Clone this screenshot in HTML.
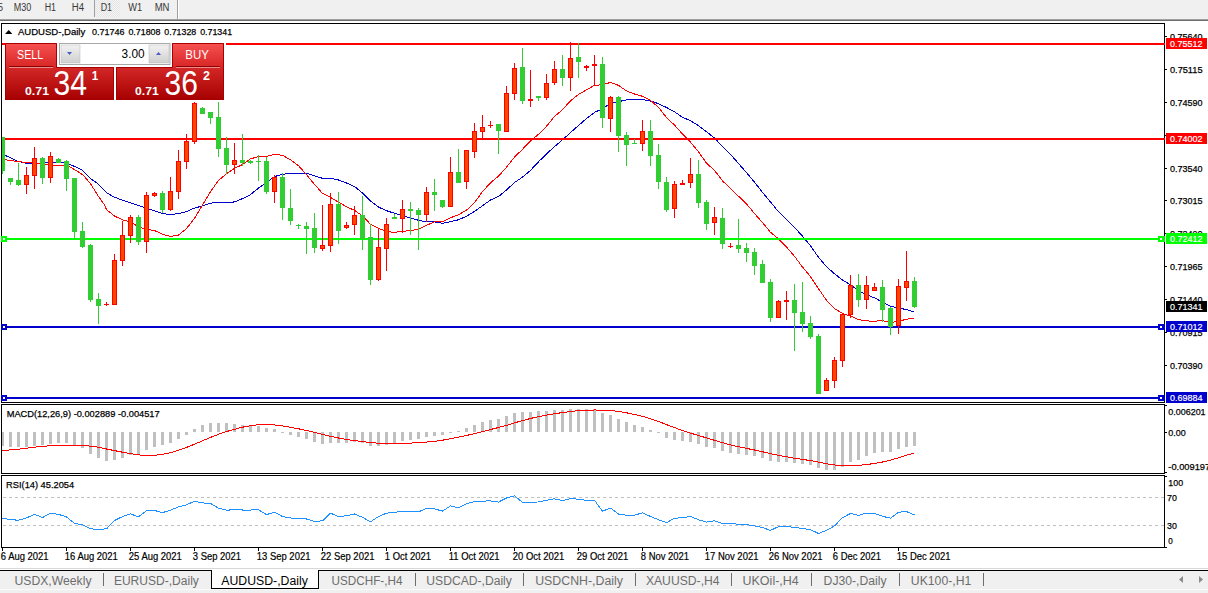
<!DOCTYPE html>
<html><head><meta charset="utf-8"><title>AUDUSD-,Daily</title>
<style>html,body{margin:0;padding:0;background:#fff;width:1208px;height:593px;overflow:hidden;font-family:"Liberation Sans",sans-serif}svg{display:block}</style>
</head><body>
<svg width="1208" height="593" viewBox="0 0 1208 593" font-family='"Liberation Sans", sans-serif'><rect x="0" y="0" width="1208" height="19" fill="#f0f0f0" />
<rect x="0" y="19" width="1208" height="1" fill="#a0a0a0" />
<rect x="0" y="20" width="1208" height="1" fill="#6e6e6e" />
<defs><pattern id="chk" width="2" height="2" patternUnits="userSpaceOnUse"><rect width="2" height="2" fill="#f4f4f4"/><rect width="1" height="1" fill="#e4e4e4"/><rect x="1" y="1" width="1" height="1" fill="#e4e4e4"/></pattern></defs>
<rect x="95" y="0" width="25" height="17" fill="url(#chk)" />
<rect x="94" y="0" width="1" height="17" fill="#a0a0a0" />
<rect x="177" y="0" width="1" height="19" fill="#a0a0a0" />
<rect x="178" y="0" width="1" height="19" fill="#ffffff" />
<text x="-2" y="10.9" font-size="10" fill="#383838" textLength="5" lengthAdjust="spacingAndGlyphs" >5</text>
<text x="13.7" y="10.9" font-size="10" fill="#383838" textLength="17.5" lengthAdjust="spacingAndGlyphs" >M30</text>
<text x="44.7" y="10.9" font-size="10" fill="#383838" textLength="11.4" lengthAdjust="spacingAndGlyphs" >H1</text>
<text x="71.7" y="10.9" font-size="10" fill="#383838" textLength="12.3" lengthAdjust="spacingAndGlyphs" >H4</text>
<text x="100.7" y="10.9" font-size="10" fill="#383838" textLength="11.4" lengthAdjust="spacingAndGlyphs" >D1</text>
<text x="128.3" y="10.9" font-size="10" fill="#383838" textLength="13.9" lengthAdjust="spacingAndGlyphs" >W1</text>
<text x="154.7" y="10.9" font-size="10" fill="#383838" textLength="14.8" lengthAdjust="spacingAndGlyphs" >MN</text>
<g clip-path="url(#mainclip)">
<clipPath id="mainclip"><rect x="2" y="24" width="1162" height="378"/></clipPath>
<path d="M1.6,153.5 L4.6,155.1 L10.1,157.7 L17.2,161.0 L25.3,163.2 L30.4,163.2 L40.5,163.2 L46.6,162.2 L56.7,162.2 L61.7,162.4 L68.8,164.2 L72.9,165.7 L81.0,169.3 L91.1,178.9 L96.2,182.5 L107.3,193.1 L112.3,196.1 L119.4,199.2 L134.9,204.2 L148.4,208.9 L162.5,213.6 L170.5,214.6 L178.5,213.6 L186.5,211.5 L194.5,208.1 L202.5,205.9 L210.5,203.1 L218.5,202.7 L226.5,202.8 L234.5,201.9 L242.5,198.6 L250.5,194.6 L258.5,188.1 L266.5,182.7 L274.5,176.6 L282.5,174.2 L290.5,173.5 L298.5,173.9 L306.5,173.3 L314.5,175.8 L322.5,178.3 L330.5,178.1 L338.5,180.0 L346.5,183.0 L354.5,186.5 L362.5,193.0 L370.5,200.9 L378.5,207.1 L386.5,210.7 L394.5,213.3 L402.5,215.6 L410.5,217.9 L418.5,220.3 L426.5,221.8 L434.5,221.9 L442.5,223.3 L450.5,221.6 L458.5,219.8 L466.5,216.2 L474.5,211.5 L482.5,205.7 L490.5,200.0 L498.5,196.5 L506.5,190.0 L514.5,182.5 L522.5,177.1 L530.5,170.4 L538.5,161.8 L546.5,153.9 L554.5,146.6 L562.5,139.8 L570.5,132.6 L578.5,125.5 L586.5,118.5 L594.5,112.4 L602.5,108.7 L610.5,103.4 L618.5,101.7 L626.5,99.9 L634.5,99.6 L642.5,99.6 L650.5,101.0 L658.5,103.7 L666.5,107.5 L674.5,111.8 L682.5,117.3 L690.5,120.7 L698.5,125.7 L706.5,131.7 L714.5,138.1 L722.5,146.4 L730.5,154.4 L738.5,163.5 L746.5,172.6 L754.5,182.1 L762.5,192.5 L770.5,202.0 L778.5,211.7 L786.5,219.5 L794.5,227.5 L802.5,236.1 L810.5,245.9 L818.5,257.2 L826.5,266.7 L834.5,273.8 L842.5,280.0 L850.5,284.8 L858.5,290.8 L866.5,294.8 L874.5,297.8 L882.5,302.2 L890.5,306.1 L898.5,308.0 L906.5,309.6 L914.5,312.1" fill="none" stroke="#0000cd" stroke-width="1" shape-rendering="crispEdges"/>
<path d="M1.6,159.2 L4.6,159.5 L9.6,160.4 L15.2,161.2 L22.3,162.0 L25.3,162.4 L30.4,162.4 L39.5,164.0 L47.6,164.4 L54.7,165.2 L63.8,165.2 L69.8,166.8 L78.9,172.3 L83.0,174.9 L91.1,184.5 L97.2,194.6 L104.3,204.7 L106.5,209.7 L114.5,216.0 L122.5,219.8 L130.5,222.0 L138.5,226.8 L146.5,229.4 L154.5,230.5 L162.5,234.3 L170.5,236.4 L178.5,235.1 L186.5,228.6 L194.5,218.3 L202.5,205.0 L210.5,191.6 L218.5,180.5 L226.5,173.7 L234.5,168.4 L242.5,164.5 L250.5,158.9 L258.5,156.5 L266.5,156.5 L274.5,154.2 L282.5,155.4 L290.5,159.7 L298.5,165.7 L306.5,174.7 L314.5,184.3 L322.5,193.4 L330.5,197.4 L338.5,202.1 L346.5,206.7 L354.5,210.4 L362.5,215.9 L370.5,224.3 L378.5,228.2 L386.5,231.6 L394.5,232.3 L402.5,231.5 L410.5,230.4 L418.5,229.4 L426.5,225.4 L434.5,221.8 L442.5,222.0 L450.5,217.8 L458.5,214.8 L466.5,210.2 L474.5,202.5 L482.5,191.6 L490.5,182.8 L498.5,176.2 L506.5,167.2 L514.5,157.1 L522.5,149.3 L530.5,141.0 L538.5,134.3 L546.5,126.3 L554.5,116.5 L562.5,109.7 L570.5,100.8 L578.5,94.5 L586.5,89.8 L594.5,85.3 L602.5,84.8 L610.5,82.4 L618.5,85.4 L626.5,90.9 L634.5,94.0 L642.5,96.3 L650.5,100.4 L658.5,107.4 L666.5,117.5 L674.5,125.1 L682.5,134.0 L690.5,142.1 L698.5,151.8 L706.5,163.2 L714.5,170.4 L722.5,180.8 L730.5,188.7 L738.5,196.2 L746.5,203.9 L754.5,213.5 L762.5,222.6 L770.5,232.3 L778.5,238.8 L786.5,247.1 L794.5,256.3 L802.5,267.0 L810.5,276.6 L818.5,288.7 L826.5,300.3 L834.5,308.6 L842.5,313.5 L850.5,316.1 L858.5,319.5 L866.5,320.9 L874.5,321.2 L882.5,320.6 L890.5,322.4 L898.5,321.4 L906.5,319.2 L914.5,318.0" fill="none" stroke="#ff0000" stroke-width="1" shape-rendering="crispEdges"/>
<rect x="2" y="43" width="3" height="2" fill="#ff0000" />
<rect x="226" y="43" width="939" height="2" fill="#ff0000" />
<rect x="2" y="138" width="1163" height="2" fill="#ff0000" />
<rect x="2" y="238" width="1163" height="2" fill="#00ff00" />
<rect x="2" y="326" width="1163" height="2" fill="#0000cd" />
<rect x="2" y="397" width="1163" height="2" fill="#0000cd" />
<rect x="2" y="137" width="1" height="37" fill="#32cd32" />
<rect x="0" y="137" width="5" height="34" fill="#32cd32" />
<rect x="10" y="178" width="1" height="7" fill="#32cd32" />
<rect x="8" y="178" width="5" height="4" fill="#32cd32" />
<rect x="18" y="163" width="1" height="23" fill="#32cd32" />
<rect x="16" y="180" width="5" height="5" fill="#32cd32" />
<rect x="26" y="167" width="1" height="27" fill="#ff0000" />
<rect x="24" y="175" width="5" height="10" fill="#ff0000" />
<rect x="25" y="176" width="3" height="8" fill="#ff4500" />
<rect x="34" y="147" width="1" height="42" fill="#ff0000" />
<rect x="32" y="158" width="5" height="18" fill="#ff0000" />
<rect x="33" y="159" width="3" height="16" fill="#ff4500" />
<rect x="42" y="157" width="1" height="27" fill="#32cd32" />
<rect x="40" y="158" width="5" height="20" fill="#32cd32" />
<rect x="50" y="152" width="1" height="31" fill="#ff0000" />
<rect x="48" y="156" width="5" height="22" fill="#ff0000" />
<rect x="49" y="157" width="3" height="20" fill="#ff4500" />
<rect x="58" y="158" width="1" height="5" fill="#32cd32" />
<rect x="56" y="159" width="5" height="4" fill="#32cd32" />
<rect x="66" y="160" width="1" height="31" fill="#32cd32" />
<rect x="64" y="161" width="5" height="18" fill="#32cd32" />
<rect x="74" y="178" width="1" height="61" fill="#32cd32" />
<rect x="72" y="178" width="5" height="54" fill="#32cd32" />
<rect x="82" y="222" width="1" height="26" fill="#32cd32" />
<rect x="80" y="231" width="5" height="16" fill="#32cd32" />
<rect x="90" y="244" width="1" height="58" fill="#32cd32" />
<rect x="88" y="245" width="5" height="55" fill="#32cd32" />
<rect x="98" y="293" width="1" height="31" fill="#32cd32" />
<rect x="96" y="299" width="5" height="7" fill="#32cd32" />
<rect x="106" y="302" width="1" height="4" fill="#ff0000" />
<rect x="104" y="304" width="5" height="1" fill="#ff0000" />
<rect x="114" y="254" width="1" height="51" fill="#ff0000" />
<rect x="112" y="260" width="5" height="45" fill="#ff0000" />
<rect x="113" y="261" width="3" height="43" fill="#ff4500" />
<rect x="122" y="221" width="1" height="45" fill="#ff0000" />
<rect x="120" y="235" width="5" height="26" fill="#ff0000" />
<rect x="121" y="236" width="3" height="24" fill="#ff4500" />
<rect x="130" y="215" width="1" height="28" fill="#ff0000" />
<rect x="128" y="217" width="5" height="19" fill="#ff0000" />
<rect x="129" y="218" width="3" height="17" fill="#ff4500" />
<rect x="138" y="215" width="1" height="30" fill="#32cd32" />
<rect x="136" y="217" width="5" height="25" fill="#32cd32" />
<rect x="146" y="192" width="1" height="61" fill="#ff0000" />
<rect x="144" y="195" width="5" height="47" fill="#ff0000" />
<rect x="145" y="196" width="3" height="45" fill="#ff4500" />
<rect x="154" y="192" width="1" height="5" fill="#ff0000" />
<rect x="152" y="193" width="5" height="3" fill="#ff0000" />
<rect x="153" y="194" width="3" height="1" fill="#ff4500" />
<rect x="162" y="191" width="1" height="22" fill="#32cd32" />
<rect x="160" y="193" width="5" height="17" fill="#32cd32" />
<rect x="170" y="177" width="1" height="34" fill="#ff0000" />
<rect x="168" y="191" width="5" height="19" fill="#ff0000" />
<rect x="169" y="192" width="3" height="17" fill="#ff4500" />
<rect x="178" y="150" width="1" height="49" fill="#ff0000" />
<rect x="176" y="161" width="5" height="31" fill="#ff0000" />
<rect x="177" y="162" width="3" height="29" fill="#ff4500" />
<rect x="186" y="134" width="1" height="35" fill="#ff0000" />
<rect x="184" y="141" width="5" height="21" fill="#ff0000" />
<rect x="185" y="142" width="3" height="19" fill="#ff4500" />
<rect x="194" y="102" width="1" height="42" fill="#ff0000" />
<rect x="192" y="103" width="5" height="39" fill="#ff0000" />
<rect x="193" y="104" width="3" height="37" fill="#ff4500" />
<rect x="202" y="107" width="1" height="7" fill="#32cd32" />
<rect x="200" y="108" width="5" height="6" fill="#32cd32" />
<rect x="210" y="112" width="1" height="12" fill="#32cd32" />
<rect x="208" y="112" width="5" height="6" fill="#32cd32" />
<rect x="218" y="102" width="1" height="55" fill="#32cd32" />
<rect x="216" y="117" width="5" height="32" fill="#32cd32" />
<rect x="226" y="137" width="1" height="37" fill="#32cd32" />
<rect x="224" y="148" width="5" height="17" fill="#32cd32" />
<rect x="234" y="143" width="1" height="31" fill="#ff0000" />
<rect x="232" y="160" width="5" height="5" fill="#ff0000" />
<rect x="233" y="161" width="3" height="3" fill="#ff4500" />
<rect x="242" y="134" width="1" height="32" fill="#32cd32" />
<rect x="240" y="160" width="5" height="3" fill="#32cd32" />
<rect x="250" y="160" width="1" height="4" fill="#32cd32" />
<rect x="248" y="161" width="5" height="2" fill="#32cd32" />
<rect x="258" y="155" width="1" height="26" fill="#32cd32" />
<rect x="256" y="161" width="5" height="1" fill="#32cd32" />
<rect x="266" y="157" width="1" height="37" fill="#32cd32" />
<rect x="264" y="161" width="5" height="31" fill="#32cd32" />
<rect x="274" y="175" width="1" height="28" fill="#ff0000" />
<rect x="272" y="177" width="5" height="15" fill="#ff0000" />
<rect x="273" y="178" width="3" height="13" fill="#ff4500" />
<rect x="282" y="173" width="1" height="47" fill="#32cd32" />
<rect x="280" y="177" width="5" height="31" fill="#32cd32" />
<rect x="290" y="189" width="1" height="36" fill="#32cd32" />
<rect x="288" y="208" width="5" height="13" fill="#32cd32" />
<rect x="298" y="224" width="1" height="5" fill="#32cd32" />
<rect x="296" y="225" width="5" height="1" fill="#32cd32" />
<rect x="306" y="222" width="1" height="32" fill="#32cd32" />
<rect x="304" y="226" width="5" height="3" fill="#32cd32" />
<rect x="314" y="213" width="1" height="40" fill="#32cd32" />
<rect x="312" y="228" width="5" height="20" fill="#32cd32" />
<rect x="322" y="205" width="1" height="46" fill="#ff0000" />
<rect x="320" y="245" width="5" height="4" fill="#ff0000" />
<rect x="321" y="246" width="3" height="2" fill="#ff4500" />
<rect x="330" y="193" width="1" height="59" fill="#ff0000" />
<rect x="328" y="204" width="5" height="42" fill="#ff0000" />
<rect x="329" y="205" width="3" height="40" fill="#ff4500" />
<rect x="338" y="192" width="1" height="52" fill="#32cd32" />
<rect x="336" y="204" width="5" height="27" fill="#32cd32" />
<rect x="346" y="222" width="1" height="7" fill="#ff0000" />
<rect x="344" y="225" width="5" height="3" fill="#ff0000" />
<rect x="345" y="226" width="3" height="1" fill="#ff4500" />
<rect x="354" y="206" width="1" height="29" fill="#ff0000" />
<rect x="352" y="215" width="5" height="10" fill="#ff0000" />
<rect x="353" y="216" width="3" height="8" fill="#ff4500" />
<rect x="362" y="196" width="1" height="54" fill="#32cd32" />
<rect x="360" y="215" width="5" height="24" fill="#32cd32" />
<rect x="370" y="224" width="1" height="61" fill="#32cd32" />
<rect x="368" y="237" width="5" height="43" fill="#32cd32" />
<rect x="378" y="228" width="1" height="53" fill="#ff0000" />
<rect x="376" y="247" width="5" height="33" fill="#ff0000" />
<rect x="377" y="248" width="3" height="31" fill="#ff4500" />
<rect x="386" y="218" width="1" height="53" fill="#ff0000" />
<rect x="384" y="224" width="5" height="25" fill="#ff0000" />
<rect x="385" y="225" width="3" height="23" fill="#ff4500" />
<rect x="394" y="214" width="1" height="5" fill="#32cd32" />
<rect x="392" y="217" width="5" height="2" fill="#32cd32" />
<rect x="402" y="200" width="1" height="33" fill="#ff0000" />
<rect x="400" y="209" width="5" height="10" fill="#ff0000" />
<rect x="401" y="210" width="3" height="8" fill="#ff4500" />
<rect x="410" y="202" width="1" height="33" fill="#32cd32" />
<rect x="408" y="209" width="5" height="2" fill="#32cd32" />
<rect x="418" y="208" width="1" height="42" fill="#32cd32" />
<rect x="416" y="210" width="5" height="5" fill="#32cd32" />
<rect x="426" y="187" width="1" height="35" fill="#ff0000" />
<rect x="424" y="192" width="5" height="23" fill="#ff0000" />
<rect x="425" y="193" width="3" height="21" fill="#ff4500" />
<rect x="434" y="179" width="1" height="32" fill="#32cd32" />
<rect x="432" y="192" width="5" height="3" fill="#32cd32" />
<rect x="442" y="200" width="1" height="8" fill="#32cd32" />
<rect x="440" y="200" width="5" height="7" fill="#32cd32" />
<rect x="450" y="157" width="1" height="50" fill="#ff0000" />
<rect x="448" y="172" width="5" height="35" fill="#ff0000" />
<rect x="449" y="173" width="3" height="33" fill="#ff4500" />
<rect x="458" y="149" width="1" height="34" fill="#32cd32" />
<rect x="456" y="172" width="5" height="11" fill="#32cd32" />
<rect x="466" y="150" width="1" height="39" fill="#ff0000" />
<rect x="464" y="150" width="5" height="32" fill="#ff0000" />
<rect x="465" y="151" width="3" height="30" fill="#ff4500" />
<rect x="474" y="123" width="1" height="35" fill="#ff0000" />
<rect x="472" y="131" width="5" height="21" fill="#ff0000" />
<rect x="473" y="132" width="3" height="19" fill="#ff4500" />
<rect x="482" y="115" width="1" height="23" fill="#ff0000" />
<rect x="480" y="127" width="5" height="5" fill="#ff0000" />
<rect x="481" y="128" width="3" height="3" fill="#ff4500" />
<rect x="490" y="121" width="1" height="7" fill="#ff0000" />
<rect x="488" y="125" width="5" height="1" fill="#ff0000" />
<rect x="498" y="124" width="1" height="30" fill="#32cd32" />
<rect x="496" y="124" width="5" height="7" fill="#32cd32" />
<rect x="506" y="86" width="1" height="46" fill="#ff0000" />
<rect x="504" y="93" width="5" height="39" fill="#ff0000" />
<rect x="505" y="94" width="3" height="37" fill="#ff4500" />
<rect x="514" y="63" width="1" height="37" fill="#ff0000" />
<rect x="512" y="68" width="5" height="26" fill="#ff0000" />
<rect x="513" y="69" width="3" height="24" fill="#ff4500" />
<rect x="522" y="48" width="1" height="56" fill="#32cd32" />
<rect x="520" y="67" width="5" height="34" fill="#32cd32" />
<rect x="530" y="70" width="1" height="37" fill="#ff0000" />
<rect x="528" y="99" width="5" height="2" fill="#ff0000" />
<rect x="538" y="96" width="1" height="5" fill="#32cd32" />
<rect x="536" y="96" width="5" height="2" fill="#32cd32" />
<rect x="546" y="74" width="1" height="26" fill="#ff0000" />
<rect x="544" y="83" width="5" height="15" fill="#ff0000" />
<rect x="545" y="84" width="3" height="13" fill="#ff4500" />
<rect x="554" y="61" width="1" height="24" fill="#ff0000" />
<rect x="552" y="69" width="5" height="14" fill="#ff0000" />
<rect x="553" y="70" width="3" height="12" fill="#ff4500" />
<rect x="562" y="55" width="1" height="31" fill="#32cd32" />
<rect x="560" y="69" width="5" height="9" fill="#32cd32" />
<rect x="570" y="42" width="1" height="49" fill="#ff0000" />
<rect x="568" y="58" width="5" height="20" fill="#ff0000" />
<rect x="569" y="59" width="3" height="18" fill="#ff4500" />
<rect x="578" y="43" width="1" height="35" fill="#32cd32" />
<rect x="576" y="57" width="5" height="5" fill="#32cd32" />
<rect x="586" y="65" width="1" height="6" fill="#ff0000" />
<rect x="584" y="66" width="5" height="2" fill="#ff0000" />
<rect x="594" y="55" width="1" height="31" fill="#ff0000" />
<rect x="592" y="64" width="5" height="2" fill="#ff0000" />
<rect x="602" y="57" width="1" height="71" fill="#32cd32" />
<rect x="600" y="64" width="5" height="54" fill="#32cd32" />
<rect x="610" y="96" width="1" height="36" fill="#ff0000" />
<rect x="608" y="97" width="5" height="22" fill="#ff0000" />
<rect x="609" y="98" width="3" height="20" fill="#ff4500" />
<rect x="618" y="96" width="1" height="56" fill="#32cd32" />
<rect x="616" y="97" width="5" height="39" fill="#32cd32" />
<rect x="626" y="132" width="1" height="34" fill="#32cd32" />
<rect x="624" y="135" width="5" height="10" fill="#32cd32" />
<rect x="634" y="139" width="1" height="5" fill="#32cd32" />
<rect x="632" y="143" width="5" height="1" fill="#32cd32" />
<rect x="642" y="120" width="1" height="31" fill="#ff0000" />
<rect x="640" y="131" width="5" height="13" fill="#ff0000" />
<rect x="641" y="132" width="3" height="11" fill="#ff4500" />
<rect x="650" y="120" width="1" height="46" fill="#32cd32" />
<rect x="648" y="131" width="5" height="25" fill="#32cd32" />
<rect x="658" y="144" width="1" height="45" fill="#32cd32" />
<rect x="656" y="155" width="5" height="27" fill="#32cd32" />
<rect x="666" y="177" width="1" height="35" fill="#32cd32" />
<rect x="664" y="182" width="5" height="28" fill="#32cd32" />
<rect x="674" y="181" width="1" height="37" fill="#ff0000" />
<rect x="672" y="184" width="5" height="25" fill="#ff0000" />
<rect x="673" y="185" width="3" height="23" fill="#ff4500" />
<rect x="682" y="180" width="1" height="5" fill="#ff0000" />
<rect x="680" y="183" width="5" height="2" fill="#ff0000" />
<rect x="690" y="158" width="1" height="30" fill="#ff0000" />
<rect x="688" y="174" width="5" height="9" fill="#ff0000" />
<rect x="689" y="175" width="3" height="7" fill="#ff4500" />
<rect x="698" y="160" width="1" height="48" fill="#32cd32" />
<rect x="696" y="174" width="5" height="29" fill="#32cd32" />
<rect x="706" y="200" width="1" height="30" fill="#32cd32" />
<rect x="704" y="202" width="5" height="22" fill="#32cd32" />
<rect x="714" y="207" width="1" height="28" fill="#ff0000" />
<rect x="712" y="217" width="5" height="6" fill="#ff0000" />
<rect x="713" y="218" width="3" height="4" fill="#ff4500" />
<rect x="722" y="208" width="1" height="41" fill="#32cd32" />
<rect x="720" y="218" width="5" height="26" fill="#32cd32" />
<rect x="730" y="243" width="1" height="5" fill="#ff0000" />
<rect x="728" y="246" width="5" height="1" fill="#ff0000" />
<rect x="738" y="219" width="1" height="34" fill="#32cd32" />
<rect x="736" y="245" width="5" height="4" fill="#32cd32" />
<rect x="746" y="243" width="1" height="19" fill="#32cd32" />
<rect x="744" y="248" width="5" height="5" fill="#32cd32" />
<rect x="754" y="248" width="1" height="27" fill="#32cd32" />
<rect x="752" y="252" width="5" height="14" fill="#32cd32" />
<rect x="762" y="260" width="1" height="23" fill="#32cd32" />
<rect x="760" y="264" width="5" height="19" fill="#32cd32" />
<rect x="770" y="279" width="1" height="43" fill="#32cd32" />
<rect x="768" y="282" width="5" height="36" fill="#32cd32" />
<rect x="778" y="300" width="1" height="18" fill="#ff0000" />
<rect x="776" y="301" width="5" height="17" fill="#ff0000" />
<rect x="777" y="302" width="3" height="15" fill="#ff4500" />
<rect x="786" y="291" width="1" height="29" fill="#ff0000" />
<rect x="784" y="300" width="5" height="2" fill="#ff0000" />
<rect x="794" y="284" width="1" height="67" fill="#32cd32" />
<rect x="792" y="300" width="5" height="13" fill="#32cd32" />
<rect x="802" y="282" width="1" height="50" fill="#32cd32" />
<rect x="800" y="312" width="5" height="12" fill="#32cd32" />
<rect x="810" y="316" width="1" height="23" fill="#32cd32" />
<rect x="808" y="323" width="5" height="14" fill="#32cd32" />
<rect x="818" y="334" width="1" height="60" fill="#32cd32" />
<rect x="816" y="336" width="5" height="58" fill="#32cd32" />
<rect x="826" y="378" width="1" height="13" fill="#ff0000" />
<rect x="824" y="380" width="5" height="11" fill="#ff0000" />
<rect x="825" y="381" width="3" height="9" fill="#ff4500" />
<rect x="834" y="357" width="1" height="31" fill="#ff0000" />
<rect x="832" y="360" width="5" height="21" fill="#ff0000" />
<rect x="833" y="361" width="3" height="19" fill="#ff4500" />
<rect x="842" y="314" width="1" height="53" fill="#ff0000" />
<rect x="840" y="314" width="5" height="47" fill="#ff0000" />
<rect x="841" y="315" width="3" height="45" fill="#ff4500" />
<rect x="850" y="275" width="1" height="43" fill="#ff0000" />
<rect x="848" y="285" width="5" height="30" fill="#ff0000" />
<rect x="849" y="286" width="3" height="28" fill="#ff4500" />
<rect x="858" y="274" width="1" height="33" fill="#32cd32" />
<rect x="856" y="285" width="5" height="15" fill="#32cd32" />
<rect x="866" y="276" width="1" height="33" fill="#ff0000" />
<rect x="864" y="285" width="5" height="15" fill="#ff0000" />
<rect x="865" y="286" width="3" height="13" fill="#ff4500" />
<rect x="874" y="283" width="1" height="8" fill="#ff0000" />
<rect x="872" y="287" width="5" height="4" fill="#ff0000" />
<rect x="873" y="288" width="3" height="2" fill="#ff4500" />
<rect x="882" y="280" width="1" height="42" fill="#32cd32" />
<rect x="880" y="287" width="5" height="23" fill="#32cd32" />
<rect x="890" y="307" width="1" height="28" fill="#32cd32" />
<rect x="888" y="308" width="5" height="19" fill="#32cd32" />
<rect x="898" y="279" width="1" height="55" fill="#ff0000" />
<rect x="896" y="286" width="5" height="40" fill="#ff0000" />
<rect x="897" y="287" width="3" height="38" fill="#ff4500" />
<rect x="906" y="251" width="1" height="50" fill="#ff0000" />
<rect x="904" y="281" width="5" height="7" fill="#ff0000" />
<rect x="905" y="282" width="3" height="5" fill="#ff4500" />
<rect x="914" y="277" width="1" height="31" fill="#32cd32" />
<rect x="912" y="281" width="5" height="26" fill="#32cd32" />
</g>
<rect x="1" y="23" width="1164" height="1" fill="#000" />
<rect x="1" y="402" width="1164" height="1" fill="#000" />
<rect x="1" y="23" width="1" height="380" fill="#000" />
<rect x="1164" y="23" width="1" height="380" fill="#000" />
<rect x="1164" y="43" width="1" height="2" fill="#ff0000" />
<rect x="1164" y="138" width="1" height="2" fill="#ff0000" />
<rect x="1164" y="238" width="1" height="2" fill="#00ff00" />
<rect x="1164" y="326" width="1" height="2" fill="#0000cd" />
<rect x="1164" y="397" width="1" height="2" fill="#0000cd" />
<rect x="1" y="236" width="6" height="6" fill="#00ff00" />
<rect x="3" y="238" width="2" height="2" fill="#fff" />
<rect x="1158" y="236" width="7" height="6" fill="#00ff00" />
<rect x="1160" y="238" width="2" height="2" fill="#fff" />
<rect x="1" y="324" width="6" height="6" fill="#0000cd" />
<rect x="3" y="326" width="2" height="2" fill="#fff" />
<rect x="1158" y="324" width="7" height="6" fill="#0000cd" />
<rect x="1160" y="326" width="2" height="2" fill="#fff" />
<rect x="1" y="395" width="6" height="6" fill="#0000cd" />
<rect x="3" y="397" width="2" height="2" fill="#fff" />
<rect x="1158" y="395" width="7" height="6" fill="#0000cd" />
<rect x="1160" y="397" width="2" height="2" fill="#fff" />
<rect x="1165" y="36" width="2" height="1" fill="#000" />
<text x="1170" y="39.8" font-size="9.9" fill="#000" stroke="#000" stroke-width="0.25" textLength="32.5" lengthAdjust="spacingAndGlyphs" >0.75640</text>
<rect x="1165" y="69" width="2" height="1" fill="#000" />
<text x="1170" y="72.8" font-size="9.9" fill="#000" stroke="#000" stroke-width="0.25" textLength="32.5" lengthAdjust="spacingAndGlyphs" >0.75115</text>
<rect x="1165" y="102" width="2" height="1" fill="#000" />
<text x="1170" y="105.8" font-size="9.9" fill="#000" stroke="#000" stroke-width="0.25" textLength="32.5" lengthAdjust="spacingAndGlyphs" >0.74590</text>
<rect x="1165" y="135" width="2" height="1" fill="#000" />
<text x="1170" y="138.8" font-size="9.9" fill="#000" stroke="#000" stroke-width="0.25" textLength="32.5" lengthAdjust="spacingAndGlyphs" >0.74065</text>
<rect x="1165" y="168" width="2" height="1" fill="#000" />
<text x="1170" y="171.8" font-size="9.9" fill="#000" stroke="#000" stroke-width="0.25" textLength="32.5" lengthAdjust="spacingAndGlyphs" >0.73540</text>
<rect x="1165" y="200" width="2" height="1" fill="#000" />
<text x="1170" y="203.8" font-size="9.9" fill="#000" stroke="#000" stroke-width="0.25" textLength="32.5" lengthAdjust="spacingAndGlyphs" >0.73015</text>
<rect x="1165" y="233" width="2" height="1" fill="#000" />
<text x="1170" y="236.8" font-size="9.9" fill="#000" stroke="#000" stroke-width="0.25" textLength="32.5" lengthAdjust="spacingAndGlyphs" >0.72490</text>
<rect x="1165" y="266" width="2" height="1" fill="#000" />
<text x="1170" y="269.8" font-size="9.9" fill="#000" stroke="#000" stroke-width="0.25" textLength="32.5" lengthAdjust="spacingAndGlyphs" >0.71965</text>
<rect x="1165" y="299" width="2" height="1" fill="#000" />
<text x="1170" y="302.8" font-size="9.9" fill="#000" stroke="#000" stroke-width="0.25" textLength="32.5" lengthAdjust="spacingAndGlyphs" >0.71440</text>
<rect x="1165" y="332" width="2" height="1" fill="#000" />
<text x="1170" y="335.8" font-size="9.9" fill="#000" stroke="#000" stroke-width="0.25" textLength="32.5" lengthAdjust="spacingAndGlyphs" >0.70915</text>
<rect x="1165" y="365" width="2" height="1" fill="#000" />
<text x="1170" y="368.8" font-size="9.9" fill="#000" stroke="#000" stroke-width="0.25" textLength="32.5" lengthAdjust="spacingAndGlyphs" >0.70390</text>
<rect x="1166" y="38" width="41" height="11" fill="#ff0000" />
<text x="1170" y="46.6" font-size="9.9" fill="#fff" stroke="#fff" stroke-width="0.2" textLength="32.5" lengthAdjust="spacingAndGlyphs" >0.75512</text>
<rect x="1166" y="133" width="41" height="11" fill="#ff0000" />
<text x="1170" y="141.6" font-size="9.9" fill="#fff" stroke="#fff" stroke-width="0.2" textLength="32.5" lengthAdjust="spacingAndGlyphs" >0.74002</text>
<rect x="1166" y="233" width="41" height="11" fill="#00ff00" />
<text x="1170" y="241.6" font-size="9.9" fill="#fff" stroke="#fff" stroke-width="0.2" textLength="32.5" lengthAdjust="spacingAndGlyphs" >0.72412</text>
<rect x="1166" y="301" width="41" height="11" fill="#000000" />
<text x="1170" y="309.6" font-size="9.9" fill="#fff" stroke="#fff" stroke-width="0.2" textLength="32.5" lengthAdjust="spacingAndGlyphs" >0.71341</text>
<rect x="1166" y="321" width="41" height="11" fill="#0000cd" />
<text x="1170" y="329.6" font-size="9.9" fill="#fff" stroke="#fff" stroke-width="0.2" textLength="32.5" lengthAdjust="spacingAndGlyphs" >0.71012</text>
<rect x="1166" y="392" width="41" height="11" fill="#0000cd" />
<text x="1170" y="400.6" font-size="9.9" fill="#fff" stroke="#fff" stroke-width="0.2" textLength="32.5" lengthAdjust="spacingAndGlyphs" >0.69884</text>
<path d="M5,34 L8.7,30 L12.4,34 Z" fill="#000"/>
<text x="18" y="34.5" font-size="9.9" fill="#000" stroke="#000" stroke-width="0.25" textLength="67.2" lengthAdjust="spacingAndGlyphs" >AUDUSD-,Daily</text>
<text x="92.1" y="34.5" font-size="9.9" fill="#000" stroke="#000" stroke-width="0.25" textLength="32.5" lengthAdjust="spacingAndGlyphs" >0.71746</text>
<text x="128.4" y="34.5" font-size="9.9" fill="#000" stroke="#000" stroke-width="0.25" textLength="32.1" lengthAdjust="spacingAndGlyphs" >0.71808</text>
<text x="164.3" y="34.5" font-size="9.9" fill="#000" stroke="#000" stroke-width="0.25" textLength="31.9" lengthAdjust="spacingAndGlyphs" >0.71328</text>
<text x="200.2" y="34.5" font-size="9.9" fill="#000" stroke="#000" stroke-width="0.25" textLength="31.9" lengthAdjust="spacingAndGlyphs" >0.71341</text>
<defs>
<linearGradient id="gtop" x1="0" y1="0" x2="0" y2="1"><stop offset="0" stop-color="#f85252"/><stop offset="1" stop-color="#d82626"/></linearGradient>
<linearGradient id="gbot" x1="0" y1="0" x2="0" y2="1"><stop offset="0" stop-color="#d42828"/><stop offset="1" stop-color="#a60000"/></linearGradient>
<linearGradient id="gbtn" x1="0" y1="0" x2="0" y2="1"><stop offset="0" stop-color="#f2f2f2"/><stop offset="1" stop-color="#cfcfcf"/></linearGradient>
</defs>
<rect x="5" y="43" width="52" height="24" fill="url(#gtop)" />
<rect x="5" y="67" width="109" height="33" fill="url(#gbot)" />
<path d="M5.5,43.5 H56.5 V67.5 H113.5 V99.5 H5.5 Z" fill="none" stroke="#a80000" stroke-width="1"/>
<rect x="9" y="66" width="44" height="1" fill="#8b0000" />
<rect x="9" y="67" width="44" height="1" fill="#ee8c8c" />
<text x="17.1" y="59" font-size="12.5" fill="#fff" textLength="26" lengthAdjust="spacingAndGlyphs" >SELL</text>
<text x="25" y="94.7" font-size="11.5" fill="#fff" font-weight="bold" textLength="24" lengthAdjust="spacingAndGlyphs" >0.71</text>
<text x="53.5" y="94.8" font-size="34.5" fill="#fff" textLength="33.5" lengthAdjust="spacingAndGlyphs" >34</text>
<text x="91.8" y="80" font-size="13" fill="#fff" font-weight="bold" textLength="6.5" lengthAdjust="spacingAndGlyphs" >1</text>
<rect x="172" y="43" width="52" height="24" fill="url(#gtop)" />
<rect x="116" y="67" width="108" height="33" fill="url(#gbot)" />
<path d="M172.5,43.5 H223.5 V99.5 H116.5 V67.5 H172.5 Z" fill="none" stroke="#a80000" stroke-width="1"/>
<rect x="176" y="66" width="44" height="1" fill="#8b0000" />
<rect x="176" y="67" width="44" height="1" fill="#ee8c8c" />
<text x="185.3" y="59" font-size="12.5" fill="#fff" textLength="23.5" lengthAdjust="spacingAndGlyphs" >BUY</text>
<text x="135" y="94.7" font-size="11.5" fill="#fff" font-weight="bold" textLength="23.7" lengthAdjust="spacingAndGlyphs" >0.71</text>
<text x="164.6" y="94.8" font-size="34.5" fill="#fff" textLength="33.3" lengthAdjust="spacingAndGlyphs" >36</text>
<text x="203" y="80" font-size="13" fill="#fff" font-weight="bold" textLength="7" lengthAdjust="spacingAndGlyphs" >2</text>
<rect x="57" y="42" width="115" height="25" fill="#ffffff" />
<rect x="59.5" y="43.5" width="110.5" height="21" fill="#ffffff" stroke="#a8a8a8" stroke-width="1"/>
<rect x="61" y="45" width="19" height="18" fill="url(#gbtn)" stroke="#b8b8b8" stroke-width="0.5"/>
<rect x="149" y="45" width="20" height="18" fill="url(#gbtn)" stroke="#b8b8b8" stroke-width="0.5"/>
<path d="M67,52 L72,52 L69.5,55 Z" fill="#4a5ac8"/>
<path d="M156,55 L161,55 L158.5,52 Z" fill="#4a5ac8"/>
<text x="121.6" y="57.8" font-size="12" fill="#000" textLength="23" lengthAdjust="spacingAndGlyphs" >3.00</text>
<rect x="1" y="404" width="1164" height="1" fill="#000" />
<rect x="1" y="473" width="1164" height="1" fill="#000" />
<rect x="1" y="404" width="1" height="70" fill="#000" />
<rect x="1164" y="404" width="1" height="70" fill="#000" />
<clipPath id="macdclip"><rect x="2" y="405" width="1162" height="68"/></clipPath><g clip-path="url(#macdclip)">
<rect x="1" y="432" width="3" height="14" fill="#c0c0c0" />
<rect x="9" y="432" width="3" height="15" fill="#c0c0c0" />
<rect x="17" y="432" width="3" height="15" fill="#c0c0c0" />
<rect x="25" y="432" width="3" height="15" fill="#c0c0c0" />
<rect x="33" y="432" width="3" height="14" fill="#c0c0c0" />
<rect x="41" y="432" width="3" height="13" fill="#c0c0c0" />
<rect x="49" y="432" width="3" height="12" fill="#c0c0c0" />
<rect x="57" y="432" width="3" height="11" fill="#c0c0c0" />
<rect x="65" y="432" width="3" height="11" fill="#c0c0c0" />
<rect x="73" y="432" width="3" height="13" fill="#c0c0c0" />
<rect x="81" y="432" width="3" height="16" fill="#c0c0c0" />
<rect x="89" y="432" width="3" height="22" fill="#c0c0c0" />
<rect x="97" y="432" width="3" height="26" fill="#c0c0c0" />
<rect x="105" y="432" width="3" height="29" fill="#c0c0c0" />
<rect x="113" y="432" width="3" height="28" fill="#c0c0c0" />
<rect x="121" y="432" width="3" height="26" fill="#c0c0c0" />
<rect x="129" y="432" width="3" height="23" fill="#c0c0c0" />
<rect x="137" y="432" width="3" height="22" fill="#c0c0c0" />
<rect x="145" y="432" width="3" height="18" fill="#c0c0c0" />
<rect x="153" y="432" width="3" height="15" fill="#c0c0c0" />
<rect x="161" y="432" width="3" height="13" fill="#c0c0c0" />
<rect x="169" y="432" width="3" height="11" fill="#c0c0c0" />
<rect x="177" y="432" width="3" height="7" fill="#c0c0c0" />
<rect x="185" y="432" width="3" height="3" fill="#c0c0c0" />
<rect x="193" y="429" width="3" height="3" fill="#c0c0c0" />
<rect x="201" y="425" width="3" height="7" fill="#c0c0c0" />
<rect x="209" y="423" width="3" height="9" fill="#c0c0c0" />
<rect x="217" y="423" width="3" height="9" fill="#c0c0c0" />
<rect x="225" y="423" width="3" height="9" fill="#c0c0c0" />
<rect x="233" y="424" width="3" height="8" fill="#c0c0c0" />
<rect x="241" y="425" width="3" height="7" fill="#c0c0c0" />
<rect x="249" y="425" width="3" height="7" fill="#c0c0c0" />
<rect x="257" y="426" width="3" height="6" fill="#c0c0c0" />
<rect x="265" y="428" width="3" height="4" fill="#c0c0c0" />
<rect x="273" y="429" width="3" height="3" fill="#c0c0c0" />
<rect x="281" y="432" width="3" height="1" fill="#c0c0c0" />
<rect x="289" y="432" width="3" height="3" fill="#c0c0c0" />
<rect x="297" y="432" width="3" height="5" fill="#c0c0c0" />
<rect x="305" y="432" width="3" height="7" fill="#c0c0c0" />
<rect x="313" y="432" width="3" height="10" fill="#c0c0c0" />
<rect x="321" y="432" width="3" height="12" fill="#c0c0c0" />
<rect x="329" y="432" width="3" height="11" fill="#c0c0c0" />
<rect x="337" y="432" width="3" height="11" fill="#c0c0c0" />
<rect x="345" y="432" width="3" height="11" fill="#c0c0c0" />
<rect x="353" y="432" width="3" height="10" fill="#c0c0c0" />
<rect x="361" y="432" width="3" height="11" fill="#c0c0c0" />
<rect x="369" y="432" width="3" height="14" fill="#c0c0c0" />
<rect x="377" y="432" width="3" height="14" fill="#c0c0c0" />
<rect x="385" y="432" width="3" height="13" fill="#c0c0c0" />
<rect x="393" y="432" width="3" height="11" fill="#c0c0c0" />
<rect x="401" y="432" width="3" height="9" fill="#c0c0c0" />
<rect x="409" y="432" width="3" height="8" fill="#c0c0c0" />
<rect x="417" y="432" width="3" height="7" fill="#c0c0c0" />
<rect x="425" y="432" width="3" height="5" fill="#c0c0c0" />
<rect x="433" y="432" width="3" height="4" fill="#c0c0c0" />
<rect x="441" y="432" width="3" height="3" fill="#c0c0c0" />
<rect x="449" y="432" width="3" height="1" fill="#c0c0c0" />
<rect x="457" y="431" width="3" height="1" fill="#c0c0c0" />
<rect x="465" y="428" width="3" height="4" fill="#c0c0c0" />
<rect x="473" y="425" width="3" height="7" fill="#c0c0c0" />
<rect x="481" y="422" width="3" height="10" fill="#c0c0c0" />
<rect x="489" y="420" width="3" height="12" fill="#c0c0c0" />
<rect x="497" y="419" width="3" height="13" fill="#c0c0c0" />
<rect x="505" y="416" width="3" height="16" fill="#c0c0c0" />
<rect x="513" y="413" width="3" height="19" fill="#c0c0c0" />
<rect x="521" y="412" width="3" height="20" fill="#c0c0c0" />
<rect x="529" y="412" width="3" height="20" fill="#c0c0c0" />
<rect x="537" y="411" width="3" height="21" fill="#c0c0c0" />
<rect x="545" y="411" width="3" height="21" fill="#c0c0c0" />
<rect x="553" y="410" width="3" height="22" fill="#c0c0c0" />
<rect x="561" y="410" width="3" height="22" fill="#c0c0c0" />
<rect x="569" y="409" width="3" height="23" fill="#c0c0c0" />
<rect x="577" y="409" width="3" height="23" fill="#c0c0c0" />
<rect x="585" y="409" width="3" height="23" fill="#c0c0c0" />
<rect x="593" y="409" width="3" height="23" fill="#c0c0c0" />
<rect x="601" y="413" width="3" height="19" fill="#c0c0c0" />
<rect x="609" y="415" width="3" height="17" fill="#c0c0c0" />
<rect x="617" y="419" width="3" height="13" fill="#c0c0c0" />
<rect x="625" y="422" width="3" height="10" fill="#c0c0c0" />
<rect x="633" y="425" width="3" height="7" fill="#c0c0c0" />
<rect x="641" y="427" width="3" height="5" fill="#c0c0c0" />
<rect x="649" y="430" width="3" height="2" fill="#c0c0c0" />
<rect x="657" y="432" width="3" height="1" fill="#c0c0c0" />
<rect x="665" y="432" width="3" height="6" fill="#c0c0c0" />
<rect x="673" y="432" width="3" height="8" fill="#c0c0c0" />
<rect x="681" y="432" width="3" height="9" fill="#c0c0c0" />
<rect x="689" y="432" width="3" height="10" fill="#c0c0c0" />
<rect x="697" y="432" width="3" height="12" fill="#c0c0c0" />
<rect x="705" y="432" width="3" height="15" fill="#c0c0c0" />
<rect x="713" y="432" width="3" height="16" fill="#c0c0c0" />
<rect x="721" y="432" width="3" height="19" fill="#c0c0c0" />
<rect x="729" y="432" width="3" height="21" fill="#c0c0c0" />
<rect x="737" y="432" width="3" height="22" fill="#c0c0c0" />
<rect x="745" y="432" width="3" height="23" fill="#c0c0c0" />
<rect x="753" y="432" width="3" height="24" fill="#c0c0c0" />
<rect x="761" y="432" width="3" height="26" fill="#c0c0c0" />
<rect x="769" y="432" width="3" height="29" fill="#c0c0c0" />
<rect x="777" y="432" width="3" height="30" fill="#c0c0c0" />
<rect x="785" y="432" width="3" height="30" fill="#c0c0c0" />
<rect x="793" y="432" width="3" height="31" fill="#c0c0c0" />
<rect x="801" y="432" width="3" height="32" fill="#c0c0c0" />
<rect x="809" y="432" width="3" height="33" fill="#c0c0c0" />
<rect x="817" y="432" width="3" height="36" fill="#c0c0c0" />
<rect x="825" y="432" width="3" height="38" fill="#c0c0c0" />
<rect x="833" y="432" width="3" height="38" fill="#c0c0c0" />
<rect x="841" y="432" width="3" height="35" fill="#c0c0c0" />
<rect x="849" y="432" width="3" height="30" fill="#c0c0c0" />
<rect x="857" y="432" width="3" height="28" fill="#c0c0c0" />
<rect x="865" y="432" width="3" height="24" fill="#c0c0c0" />
<rect x="873" y="432" width="3" height="21" fill="#c0c0c0" />
<rect x="881" y="432" width="3" height="20" fill="#c0c0c0" />
<rect x="889" y="432" width="3" height="20" fill="#c0c0c0" />
<rect x="897" y="432" width="3" height="17" fill="#c0c0c0" />
<rect x="905" y="432" width="3" height="15" fill="#c0c0c0" />
<rect x="913" y="432" width="3" height="14" fill="#c0c0c0" />
<path d="M1.6,450.6 L17.5,449.3 L39.1,446.6 L54.0,445.5 L66.5,445.3 L74.5,445.2 L82.5,445.4 L90.5,446.1 L98.5,447.3 L106.5,449.0 L114.5,450.6 L122.5,452.2 L130.5,453.6 L138.5,454.9 L146.5,455.5 L154.5,455.3 L162.5,454.4 L170.5,452.7 L178.5,450.3 L186.5,447.4 L194.5,444.2 L202.5,440.8 L210.5,437.4 L218.5,434.3 L226.5,431.6 L234.5,429.3 L242.5,427.2 L250.5,425.7 L258.5,424.7 L266.5,424.6 L274.5,425.0 L282.5,426.0 L290.5,427.3 L298.5,428.8 L306.5,430.5 L314.5,432.4 L322.5,434.4 L330.5,436.3 L338.5,438.0 L346.5,439.5 L354.5,440.6 L362.5,441.6 L370.5,442.5 L378.5,443.3 L386.5,443.6 L394.5,443.6 L402.5,443.4 L410.5,443.1 L418.5,442.7 L426.5,442.1 L434.5,441.3 L442.5,440.2 L450.5,438.7 L458.5,437.2 L466.5,435.5 L474.5,433.6 L482.5,431.6 L490.5,429.5 L498.5,427.5 L506.5,425.4 L514.5,422.9 L522.5,420.6 L530.5,418.5 L538.5,416.6 L546.5,415.1 L554.5,413.7 L562.5,412.6 L570.5,411.5 L578.5,410.7 L586.5,410.3 L594.5,410.0 L602.5,410.1 L610.5,410.5 L618.5,411.4 L626.5,412.8 L634.5,414.5 L642.5,416.4 L650.5,418.7 L658.5,421.4 L666.5,424.6 L674.5,427.6 L682.5,430.5 L690.5,433.1 L698.5,435.5 L706.5,437.9 L714.5,440.3 L722.5,442.7 L730.5,444.9 L738.5,446.7 L746.5,448.4 L754.5,450.0 L762.5,451.8 L770.5,453.6 L778.5,455.3 L786.5,456.8 L794.5,458.2 L802.5,459.4 L810.5,460.6 L818.5,462.1 L826.5,463.7 L834.5,465.0 L842.5,465.7 L850.5,465.7 L858.5,465.4 L866.5,464.6 L874.5,463.4 L882.5,462.0 L890.5,460.1 L898.5,457.8 L906.5,455.2 L914.5,452.9" fill="none" stroke="#ff0000" stroke-width="1" shape-rendering="crispEdges"/>
</g>
<text x="6.7" y="417" font-size="9.9" fill="#000" stroke="#000" stroke-width="0.25" textLength="153" lengthAdjust="spacingAndGlyphs" >MACD(12,26,9) -0.002889 -0.004517</text>
<rect x="1165" y="405" width="2" height="1" fill="#000" />
<text x="1168.3" y="414.8" font-size="9.9" fill="#000" stroke="#000" stroke-width="0.25" textLength="37.3" lengthAdjust="spacingAndGlyphs" >0.006201</text>
<rect x="1165" y="432" width="2" height="1" fill="#000" />
<text x="1168.3" y="435.8" font-size="9.9" fill="#000" stroke="#000" stroke-width="0.25" textLength="17.5" lengthAdjust="spacingAndGlyphs" >0.00</text>
<rect x="1165" y="472" width="2" height="1" fill="#000" />
<text x="1168.3" y="469.8" font-size="9.9" fill="#000" stroke="#000" stroke-width="0.25" textLength="41.9" lengthAdjust="spacingAndGlyphs" >-0.009197</text>
<rect x="1" y="475" width="1164" height="1" fill="#000" />
<rect x="1" y="547" width="1164" height="1" fill="#000" />
<rect x="1" y="475" width="1" height="73" fill="#000" />
<rect x="1164" y="475" width="1" height="73" fill="#000" />
<line x1="3" y1="497.5" x2="1164" y2="497.5" stroke="#c0c0c0" stroke-width="1" stroke-dasharray="3,3"/>
<line x1="3" y1="525.5" x2="1164" y2="525.5" stroke="#c0c0c0" stroke-width="1" stroke-dasharray="3,3"/>
<path d="M2.5,518.3 L10.5,519.7 L18.5,520.2 L26.5,517.9 L34.5,514.4 L42.5,517.5 L50.5,513.3 L58.5,514.4 L66.5,516.9 L74.5,523.4 L82.5,524.8 L90.5,528.9 L98.5,529.3 L106.5,528.9 L114.5,520.5 L122.5,516.6 L130.5,513.9 L138.5,516.8 L146.5,510.7 L154.5,510.5 L162.5,512.6 L170.5,510.2 L178.5,506.8 L186.5,504.8 L194.5,501.3 L202.5,502.9 L210.5,503.5 L218.5,508.1 L226.5,510.2 L234.5,509.7 L242.5,510.0 L250.5,510.0 L258.5,509.9 L266.5,514.6 L274.5,512.2 L282.5,516.5 L290.5,518.0 L298.5,518.7 L306.5,519.0 L314.5,521.4 L322.5,520.8 L330.5,513.1 L338.5,516.7 L346.5,515.7 L354.5,514.0 L362.5,517.3 L370.5,521.9 L378.5,516.5 L386.5,513.2 L394.5,512.4 L402.5,511.1 L410.5,511.3 L418.5,511.9 L426.5,508.4 L434.5,508.9 L442.5,511.1 L450.5,505.9 L458.5,507.8 L466.5,503.6 L474.5,501.5 L482.5,501.1 L490.5,500.9 L498.5,502.1 L506.5,498.0 L514.5,495.8 L522.5,502.3 L530.5,502.1 L538.5,502.0 L546.5,500.3 L554.5,498.8 L562.5,500.7 L570.5,498.5 L578.5,499.3 L586.5,500.4 L594.5,500.2 L602.5,511.2 L610.5,508.1 L618.5,514.1 L626.5,515.2 L634.5,515.1 L642.5,512.9 L650.5,516.5 L658.5,519.7 L666.5,522.7 L674.5,518.1 L682.5,517.9 L690.5,516.4 L698.5,519.8 L706.5,522.1 L714.5,520.8 L722.5,523.6 L730.5,523.8 L738.5,524.1 L746.5,524.5 L754.5,525.9 L762.5,527.6 L770.5,530.4 L778.5,526.6 L786.5,526.3 L794.5,527.5 L802.5,528.5 L810.5,529.6 L818.5,533.5 L826.5,530.3 L834.5,525.9 L842.5,517.7 L850.5,513.5 L858.5,515.3 L866.5,513.2 L874.5,513.4 L882.5,516.3 L890.5,518.2 L898.5,512.2 L906.5,511.6 L914.5,514.9" fill="none" stroke="#1e90ff" stroke-width="1" shape-rendering="crispEdges"/>
<text x="6.1" y="487.9" font-size="9.9" fill="#000" stroke="#000" stroke-width="0.25" textLength="68" lengthAdjust="spacingAndGlyphs" >RSI(14) 45.2054</text>
<text x="1168.3" y="485.8" font-size="9.9" fill="#000" stroke="#000" stroke-width="0.25" textLength="14.8" lengthAdjust="spacingAndGlyphs" >100</text>
<text x="1167.1" y="500.9" font-size="9.9" fill="#000" stroke="#000" stroke-width="0.25" textLength="9.8" lengthAdjust="spacingAndGlyphs" >70</text>
<text x="1167.1" y="528.9" font-size="9.9" fill="#000" stroke="#000" stroke-width="0.25" textLength="9.8" lengthAdjust="spacingAndGlyphs" >30</text>
<text x="1168.3" y="543.9" font-size="9.9" fill="#000" stroke="#000" stroke-width="0.25" textLength="4.5" lengthAdjust="spacingAndGlyphs" >0</text>
<rect x="1165" y="476" width="2" height="1" fill="#000" />
<rect x="1165" y="547" width="2" height="1" fill="#000" />
<rect x="2" y="548" width="1" height="3" fill="#000" />
<text x="0.8" y="560.1" font-size="10.5" fill="#000" stroke="#000" stroke-width="0.2" textLength="47.8" lengthAdjust="spacingAndGlyphs" >6 Aug 2021</text>
<rect x="66" y="548" width="1" height="3" fill="#000" />
<text x="64.8" y="560.1" font-size="10.5" fill="#000" stroke="#000" stroke-width="0.2" textLength="53.0" lengthAdjust="spacingAndGlyphs" >16 Aug 2021</text>
<rect x="130" y="548" width="1" height="3" fill="#000" />
<text x="128.8" y="560.1" font-size="10.5" fill="#000" stroke="#000" stroke-width="0.2" textLength="53.0" lengthAdjust="spacingAndGlyphs" >25 Aug 2021</text>
<rect x="194" y="548" width="1" height="3" fill="#000" />
<text x="192.8" y="560.1" font-size="10.5" fill="#000" stroke="#000" stroke-width="0.2" textLength="48.3" lengthAdjust="spacingAndGlyphs" >3 Sep 2021</text>
<rect x="258" y="548" width="1" height="3" fill="#000" />
<text x="256.8" y="560.1" font-size="10.5" fill="#000" stroke="#000" stroke-width="0.2" textLength="53.6" lengthAdjust="spacingAndGlyphs" >13 Sep 2021</text>
<rect x="322" y="548" width="1" height="3" fill="#000" />
<text x="320.8" y="560.1" font-size="10.5" fill="#000" stroke="#000" stroke-width="0.2" textLength="53.6" lengthAdjust="spacingAndGlyphs" >22 Sep 2021</text>
<rect x="386" y="548" width="1" height="3" fill="#000" />
<text x="384.8" y="560.1" font-size="10.5" fill="#000" stroke="#000" stroke-width="0.2" textLength="46.2" lengthAdjust="spacingAndGlyphs" >1 Oct 2021</text>
<rect x="450" y="548" width="1" height="3" fill="#000" />
<text x="448.8" y="560.1" font-size="10.5" fill="#000" stroke="#000" stroke-width="0.2" textLength="50.7" lengthAdjust="spacingAndGlyphs" >11 Oct 2021</text>
<rect x="514" y="548" width="1" height="3" fill="#000" />
<text x="512.8" y="560.1" font-size="10.5" fill="#000" stroke="#000" stroke-width="0.2" textLength="51.5" lengthAdjust="spacingAndGlyphs" >20 Oct 2021</text>
<rect x="578" y="548" width="1" height="3" fill="#000" />
<text x="576.8" y="560.1" font-size="10.5" fill="#000" stroke="#000" stroke-width="0.2" textLength="51.5" lengthAdjust="spacingAndGlyphs" >29 Oct 2021</text>
<rect x="642" y="548" width="1" height="3" fill="#000" />
<text x="640.8" y="560.1" font-size="10.5" fill="#000" stroke="#000" stroke-width="0.2" textLength="48.3" lengthAdjust="spacingAndGlyphs" >8 Nov 2021</text>
<rect x="706" y="548" width="1" height="3" fill="#000" />
<text x="704.8" y="560.1" font-size="10.5" fill="#000" stroke="#000" stroke-width="0.2" textLength="53.6" lengthAdjust="spacingAndGlyphs" >17 Nov 2021</text>
<rect x="770" y="548" width="1" height="3" fill="#000" />
<text x="768.8" y="560.1" font-size="10.5" fill="#000" stroke="#000" stroke-width="0.2" textLength="53.6" lengthAdjust="spacingAndGlyphs" >26 Nov 2021</text>
<rect x="834" y="548" width="1" height="3" fill="#000" />
<text x="832.8" y="560.1" font-size="10.5" fill="#000" stroke="#000" stroke-width="0.2" textLength="48.3" lengthAdjust="spacingAndGlyphs" >6 Dec 2021</text>
<rect x="898" y="548" width="1" height="3" fill="#000" />
<text x="896.8" y="560.1" font-size="10.5" fill="#000" stroke="#000" stroke-width="0.2" textLength="53.6" lengthAdjust="spacingAndGlyphs" >15 Dec 2021</text>
<rect x="0" y="568" width="1208" height="1" fill="#d8d8d8" />
<rect x="0" y="569" width="1208" height="1" fill="#ffffff" />
<rect x="0" y="570" width="1208" height="1" fill="#000" />
<rect x="0" y="571" width="1208" height="18" fill="#f0f0f0" />
<rect x="0" y="589" width="1208" height="1" fill="#fafafa" />
<rect x="0" y="590" width="1208" height="3" fill="#f0f0f0" />
<rect x="211" y="570" width="108" height="19" fill="#000" />
<rect x="212" y="570" width="106" height="18" fill="#fff" />
<text x="14.5" y="584.8" font-size="12" fill="#6d6d6d" textLength="77.0" lengthAdjust="spacingAndGlyphs" >USDX,Weekly</text>
<text x="113.9" y="584.8" font-size="12" fill="#6d6d6d" textLength="85.0" lengthAdjust="spacingAndGlyphs" >EURUSD-,Daily</text>
<text x="331.5" y="584.8" font-size="12" fill="#6d6d6d" textLength="70.9" lengthAdjust="spacingAndGlyphs" >USDCHF-,H4</text>
<text x="426.3" y="584.8" font-size="12" fill="#6d6d6d" textLength="85.6" lengthAdjust="spacingAndGlyphs" >USDCAD-,Daily</text>
<text x="535.2" y="584.8" font-size="12" fill="#6d6d6d" textLength="87.8" lengthAdjust="spacingAndGlyphs" >USDCNH-,Daily</text>
<text x="645.9" y="584.8" font-size="12" fill="#6d6d6d" textLength="73.7" lengthAdjust="spacingAndGlyphs" >XAUUSD-,H4</text>
<text x="742.5" y="584.8" font-size="12" fill="#6d6d6d" textLength="56.3" lengthAdjust="spacingAndGlyphs" >UKOil-,H4</text>
<text x="823.6" y="584.8" font-size="12" fill="#6d6d6d" textLength="63.0" lengthAdjust="spacingAndGlyphs" >DJ30-,Daily</text>
<text x="910.8" y="584.8" font-size="12" fill="#6d6d6d" textLength="60.5" lengthAdjust="spacingAndGlyphs" >UK100-,H1</text>
<text x="221.3" y="584.8" font-size="12" fill="#000" textLength="86.5" lengthAdjust="spacingAndGlyphs" >AUDUSD-,Daily</text>
<rect x="103" y="573" width="1" height="13" fill="#6d6d6d" />
<rect x="415" y="573" width="1" height="13" fill="#6d6d6d" />
<rect x="523" y="573" width="1" height="13" fill="#6d6d6d" />
<rect x="635" y="573" width="1" height="13" fill="#6d6d6d" />
<rect x="731" y="573" width="1" height="13" fill="#6d6d6d" />
<rect x="811" y="573" width="1" height="13" fill="#6d6d6d" />
<rect x="899" y="573" width="1" height="13" fill="#6d6d6d" />
<rect x="983" y="573" width="1" height="13" fill="#6d6d6d" />
<path d="M1183,576 L1183,583 L1179,579.5 Z" fill="#8c8c8c"/>
<path d="M1199,576 L1199,583 L1203,579.5 Z" fill="#8c8c8c"/></svg>
</body></html>
